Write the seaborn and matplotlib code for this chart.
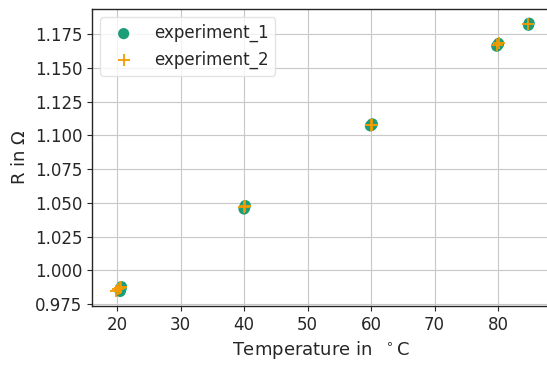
import numpy as np
import pandas as pd
import matplotlib
matplotlib.use("Agg")
import matplotlib.pyplot as plt
import seaborn as sns

# experiment 1 (green circles)
temp_1 = [20.5, 20.7, 20.6, 40.0, 40.2, 40.1, 59.9, 60.2, 60.1, 79.8, 80.1, 80.0, 84.8, 84.9]
r_1 = [0.9845, 0.9880, 0.9860, 1.0455, 1.0480, 1.0465, 1.1070, 1.1085, 1.1075, 1.1660, 1.1680, 1.1670, 1.1815, 1.1830]
# experiment 2 (orange plus)
temp_2 = [19.8, 20.1, 20.4, 20.6, 40.0, 40.2, 60.0, 60.2, 79.9, 80.1, 84.8]
r_2 = [0.9850, 0.9860, 0.9870, 0.9880, 1.0470, 1.0480, 1.1075, 1.1080, 1.1670, 1.1680, 1.1825]

df1 = pd.DataFrame({"T": temp_1, "R": r_1})
df2 = pd.DataFrame({"T": temp_2, "R": r_2})

sns.set_theme(style="ticks", context="notebook")
plt.rcParams["axes.grid"] = True

fig = plt.figure(figsize=(5.47, 3.65), dpi=100)
ax = fig.add_axes([92 / 547, 1 - 306 / 365, 459 / 547, 297 / 365])

sns.scatterplot(data=df1, x="T", y="R", color="#1b9e77", marker="o", s=65,
                edgecolor="none", label="experiment_1", ax=ax)
sns.scatterplot(data=df2, x="T", y="R", color="#f59a00", marker="+", s=80,
                linewidth=1.3, label="experiment_2", ax=ax)

ax.set_xlim(16.06, 16.06 + 459 / 6.35)
ax.set_ylim(0.9737, 1.1935)
ax.set_yticks([0.975, 1.0, 1.025, 1.05, 1.075, 1.1, 1.125, 1.15, 1.175])
ax.set_yticklabels(["0.975", "1.000", "1.025", "1.050", "1.075", "1.100", "1.125", "1.150", "1.175"])
ax.tick_params(labelsize=12, length=3.5, width=0.8, colors="#262626")
ax.set_xlabel("Temperature in  $^\\circ$C", fontsize=13, color="#262626")
ax.set_ylabel("R in $\\Omega$", fontsize=13, color="#262626")
ax.grid(True, color="#c8c8c8", linewidth=0.8)
for sp in ax.spines.values():
    sp.set_visible(True)
    sp.set_color("#262626")
    sp.set_linewidth(1.0)
leg = ax.legend(loc="upper left", frameon=True, fontsize=12, borderaxespad=0.5)
leg.get_frame().set_edgecolor("#dddddd")

fig.savefig("out.png", dpi=100)
